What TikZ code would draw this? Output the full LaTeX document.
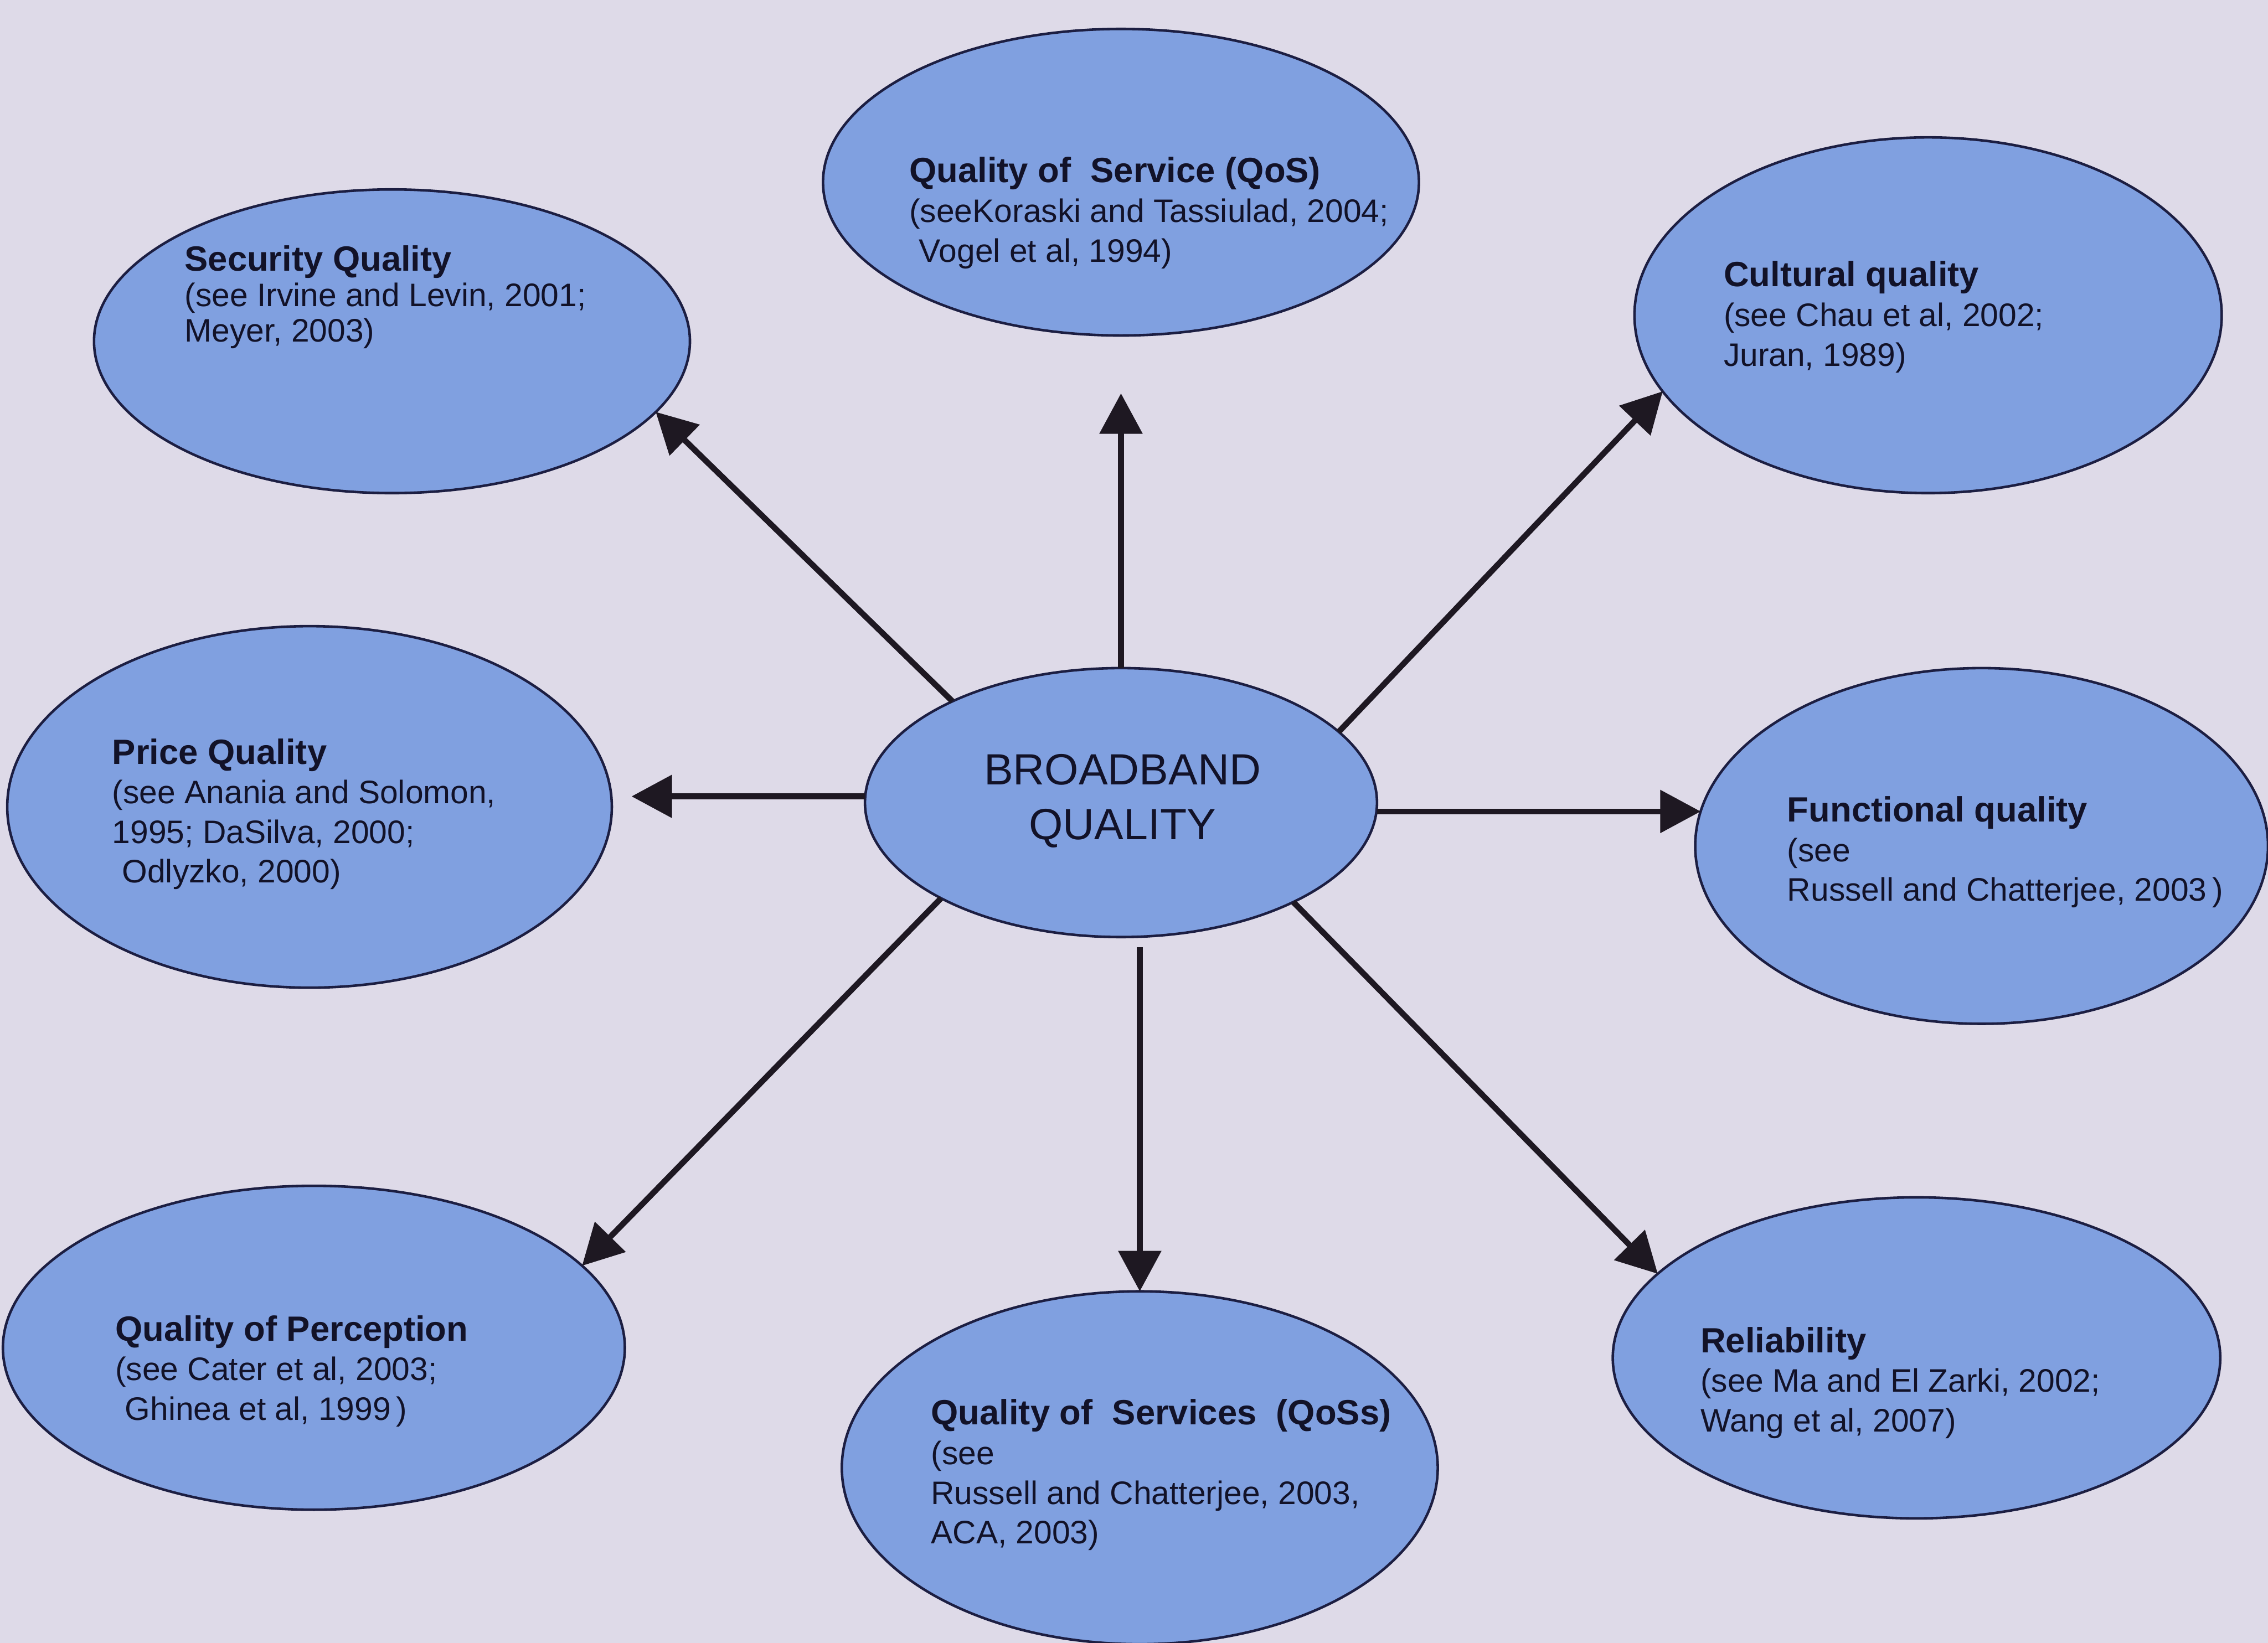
\documentclass[tikz,border=0pt]{standalone}
\usepackage{fontspec}
\setmainfont{Liberation Sans}
\usetikzlibrary{shapes.geometric,arrows.meta,calc}
\definecolor{paper}{RGB}{222,218,232}
\definecolor{bubblefill}{RGB}{128,160,224}
\definecolor{rim}{RGB}{28,30,66}
\definecolor{ink}{RGB}{18,18,40}
\definecolor{shaft}{RGB}{30,24,34}

\begin{document}
\begin{tikzpicture}[x=0.1mm,y=-0.1mm,
  bubble/.style={ellipse, draw=rim, fill=bubblefill, line width=0.5pt, inner sep=0pt, outer sep=0pt},
  ref/.style={anchor=north west, inner sep=0pt, align=left, text=ink, font=\fontsize{6.4}{7.8}\selectfont},
  link/.style={draw=shaft, line width=1.15pt, -{Triangle[length=2.8mm,width=2.9mm]}}
]
% page background
\fill[paper] (0,0) rectangle (1568,1136);
\useasboundingbox (0,0) rectangle (1568,1136);

% ellipses
\node[bubble, minimum width=41.2mm, minimum height=21mm]   (sec) at (271,236)  {};
\node[bubble, minimum width=41.2mm, minimum height=21.2mm] (qos) at (775,126)  {};
\node[bubble, minimum width=40.6mm, minimum height=24.6mm] (cul) at (1333,218) {};
\node[bubble, minimum width=41.8mm, minimum height=25mm]   (pri) at (214,558)  {};
\node[bubble, minimum width=35.4mm, minimum height=18.6mm] (hub) at (775,555)  {};
\node[bubble, minimum width=39.6mm, minimum height=24.6mm] (fun) at (1370,585) {};
\node[bubble, minimum width=43mm,   minimum height=22.4mm] (per) at (217,932)  {};
\node[bubble, minimum width=41.2mm, minimum height=24.4mm] (qss) at (788,1015) {};
\node[bubble, minimum width=42mm,   minimum height=22.2mm] (rel) at (1325,939) {};

% labels
\node[ref, font=\fontsize{6.4}{7.0}\selectfont] (sectxt) at (127,169)
  {{\fontsize{6.9}{7.0}\selectfont\bfseries Security Quality}\\(see Irvine and Levin, 2001;\\Meyer, 2003)};
\node[ref] (qostxt) at (628,108)
  {{\fontsize{6.9}{7.8}\selectfont\bfseries Quality of\ \ Service (QoS)}\\(seeKoraski and Tassiulad, 2004;\\\hspace{0.3em}Vogel et al, 1994)};
\node[ref] (cultxt) at (1191,180)
  {{\fontsize{6.9}{7.8}\selectfont\bfseries Cultural quality}\\(see Chau et al, 2002;\\Juran, 1989)};
\node[ref] (pritxt) at (77,510)
  {{\fontsize{6.9}{7.8}\selectfont\bfseries Price Quality}\\(see Anania and Solomon,\\1995; DaSilva, 2000;\\\hspace{0.3em}Odlyzko, 2000)};
\node[ref] (funtxt) at (1235,550)
  {{\fontsize{6.9}{7.8}\selectfont\bfseries Functional quality}\\(see\\Russell and Chatterjee, 2003\,)};
\node[ref] (pertxt) at (79,909)
  {{\fontsize{6.9}{7.8}\selectfont\bfseries Quality of Perception}\\(see Cater et al, 2003;\\\hspace{0.3em}Ghinea et al, 1999\,)};
\node[ref] (qsstxt) at (643,967)
  {{\fontsize{6.9}{7.8}\selectfont\bfseries Quality of\ \ Services\ \ (QoSs)}\\(see\\Russell and Chatterjee, 2003,\\ACA, 2003)};
\node[ref] (reltxt) at (1175,917)
  {{\fontsize{6.9}{7.8}\selectfont\bfseries Reliability}\\(see Ma and El Zarki, 2002;\\Wang et al, 2007)};
\node[align=center, text=ink, inner sep=0pt, font=\fontsize{8.6}{10.8}\selectfont] (hubtxt) at (776,554)
  {BROADBAND\\QUALITY};

% connectors from the hub
\draw[link] (hub.149.7) -- (sec.-15.5);
\draw[link, shorten >=4mm] (qos.south |- hub.north) -- (qos.south);
\draw[link] (hub.18.1) -- (cul.196.7);
\draw[link, shorten >=1.4mm] (pri.2 -| hub.west) -- (pri.2);
\draw[link] (fun.173.9 -| hub.east) -- (fun.173.9);
\draw[link] (hub.208.9) -- (per.17.8);
\draw[link, shorten <=0.7mm] (qss.north |- hub.south) -- (qss.north);
\draw[link] (hub.-30.5) -- (rel.162.4);
\end{tikzpicture}
\end{document}
